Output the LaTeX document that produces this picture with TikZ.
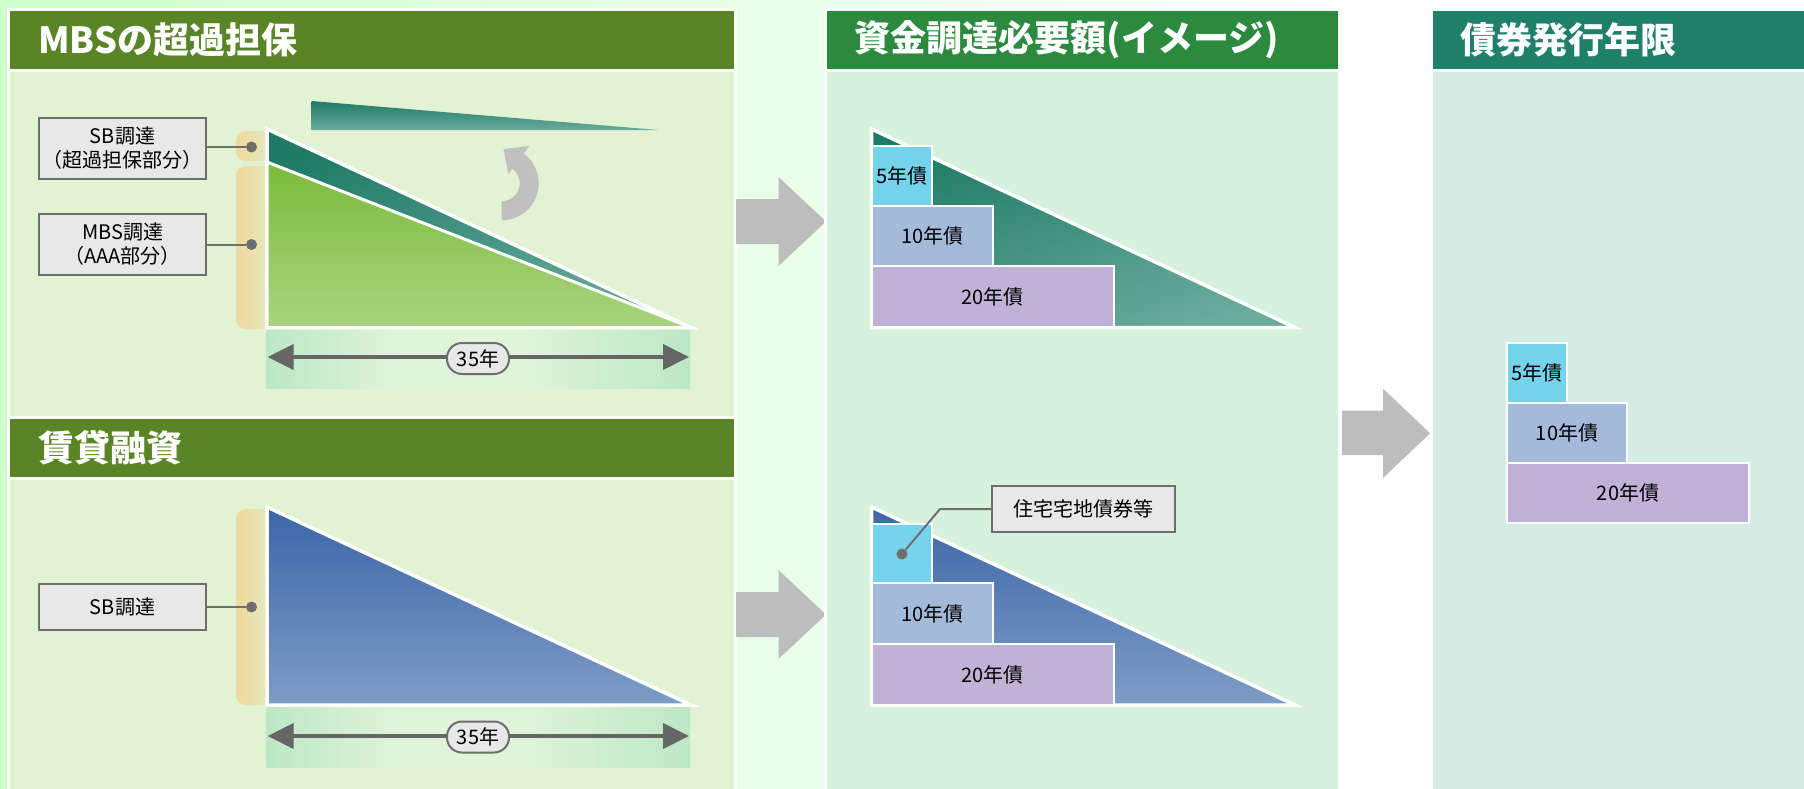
\documentclass[tikz,border=0pt]{standalone}
\usepackage{fontspec}
\setmainfont{Noto Sans CJK JP}
\usetikzlibrary{arrows.meta}
\definecolor{bgL}{HTML}{CCFFCC}
\definecolor{hdrA}{HTML}{5A8526}
\definecolor{hdrB}{HTML}{2B8A3E}
\definecolor{hdrC}{HTML}{1E7F6A}
\definecolor{bodyA}{HTML}{E2F3D4}
\definecolor{bodyB}{HTML}{D6F2DC}
\definecolor{bodyC}{HTML}{D4ECE4}
\definecolor{tealD}{HTML}{1E7B65}
\definecolor{tealL}{HTML}{6AAB9B}
\definecolor{grnD}{HTML}{7CBB3C}
\definecolor{grnL}{HTML}{A8D47E}
\definecolor{bluD}{HTML}{3C66A8}
\definecolor{bluL}{HTML}{7E9CC6}
\definecolor{tanbar}{HTML}{EFD79A}
\definecolor{bandc}{HTML}{BCE8C6}
\definecolor{bandl}{HTML}{E0F4DA}
\definecolor{lblfill}{HTML}{E8E8E8}
\definecolor{lblline}{HTML}{6E6E6E}
\definecolor{spangray}{HTML}{666666}
\definecolor{arrowgray}{HTML}{BDBDBD}
\definecolor{curvegray}{HTML}{C0C0C0}
\definecolor{b5}{HTML}{76D3EC}
\definecolor{b10}{HTML}{A3BADB}
\definecolor{b20}{HTML}{BFB2D6}
\begin{document}
\begin{tikzpicture}[x=1pt,y=-1pt,
  hdr/.style={font=\fontsize{36}{40}\selectfont\bfseries, text=white, anchor=west, inner sep=0pt},
  lbl/.style={draw=lblline, fill=lblfill, line width=2pt, font=\fontsize{20}{24}\selectfont, align=center, minimum width=167pt, inner sep=0pt},
  bond/.style={draw=white, line width=2pt, inner sep=0pt, font=\fontsize{20}{23}\selectfont},
  dotc/.style={circle, fill=lblline, inner sep=0pt, minimum size=11pt},
  conn/.style={draw=lblline, line width=2pt},
  tri/.style={draw=white, line width=3.5pt},
  blockarrow/.style={fill=arrowgray},
  pill/.style={draw=lblline, fill=lblfill, line width=2pt, rounded corners=15pt, minimum width=62pt, minimum height=31pt, inner sep=0pt, font=\fontsize{20}{23}\selectfont},
  spanline/.style={draw=spangray, line width=4pt, {Triangle[length=26pt,width=25pt]}-{Triangle[length=26pt,width=25pt]}},
  panel/.style={draw=white, line width=3pt}
]
\useasboundingbox (0,0) rectangle (1804,788);
% background
\shade[left color=bgL, right color=white] (0,0) rectangle (1340,788);
\fill[white] (1340,0) rectangle (1804,788);

% ---------- left panel ----------
\path[panel, fill=hdrA] (8.5,9.5) rectangle (735.5,70.5);
\path[panel, fill=bodyA] (8.5,70.5) rectangle (735.5,417);
\path[panel, fill=hdrA] (8.5,417) rectangle (735.5,478.5);
\path[panel, fill=bodyA] (8.5,478.5) rectangle (735.5,800);
\node[hdr] (t1) at (38,40) {MBSの超過担保};
\node[hdr] (t2) at (38,448) {賃貸融資};

% tan bars
\shade[left color=tanbar, right color=tanbar!25!bodyA, rounded corners=10pt] (236,131) rectangle (272,161);
\shade[left color=tanbar, right color=tanbar!25!bodyA, rounded corners=10pt] (236,166) rectangle (272,329);
\shade[left color=tanbar, right color=tanbar!25!bodyA, rounded corners=10pt] (236,509) rectangle (272,705);

% bands
\shade[left color=bandc, right color=bandl] (266.6,329) rectangle (400,388);
\fill[bandl] (399.5,329) rectangle (520.5,388);
\shade[left color=bandl, right color=bandc] (520,329) rectangle (690,388);
\shade[left color=bandc, right color=bandl] (266.6,706) rectangle (400,767);
\fill[bandl] (399.5,706) rectangle (520.5,767);
\shade[left color=bandl, right color=bandc] (520,706) rectangle (690,767);

% MBS triangles
\path[tri, top color=tealD, bottom color=tealL, shading angle=20] (267,129) -- (267,327.5) -- (691,327.5) -- cycle;
\path[tri, line width=3pt, top color=grnD, bottom color=grnL] (267,162) -- (267,327.5) -- (691,327.5) -- cycle;
% floating wedge
\path[top color=tealD, bottom color=tealL] (311.5,101) -- (658,130) -- (311.5,130) -- cycle;
% curved arrow
\begin{scope}[shift={(501.7,183.3)}, y=1pt]
\fill[curvegray] (-90:37) arc[start angle=-90, end angle=53.5, radius=37]
  -- (53.5:46.4) -- (87:34.3) -- (53.5:11.2) -- (53.5:18)
  arc[start angle=53.5, end angle=-90, radius=18] -- cycle;
\end{scope}

% labels top-left
\node[lbl, minimum height=61pt] (sb1) at (122.5,148.5) {SB調達\\（超過担保部分）};
\node[lbl, minimum height=61pt] (mbs1) at (122.5,244.5) {MBS調達\\（AAA部分）};
\node[dotc] (d1) at (251.5,147) {};
\node[dotc] (d2) at (251.5,244.5) {};
\draw[conn] (sb1.east |- d1) -- (d1);
\draw[conn] (mbs1) -- (d2);

% span 1
\coordinate (s1l) at (267.6,357);
\coordinate (s1r) at (689,357);
\draw[spanline] (s1l) -- (s1r);
\node[pill] (p1) at (478,358.5) {35年};

% 賃貸融資 triangle
\path[tri, top color=bluD, bottom color=bluL] (267,507) -- (267,705) -- (691,705) -- cycle;
\node[lbl, minimum height=46pt] (sb2) at (122.5,607) {SB調達};
\node[dotc] (d3) at (251.5,607) {};
\draw[conn] (sb2) -- (d3);
\coordinate (s2l) at (267.6,736);
\coordinate (s2r) at (689,736);
\draw[spanline] (s2l) -- (s2r);
\node[pill] (p2) at (478,737) {35年};

% ---------- block arrows ----------
\fill[blockarrow] (736,199) -- (778.5,199) -- (778.5,177) -- (826,221.5) -- (778.5,266) -- (778.5,244) -- (736,244) -- cycle;
\fill[blockarrow] (736,592) -- (778.5,592) -- (778.5,570) -- (826,614.5) -- (778.5,659) -- (778.5,637) -- (736,637) -- cycle;
\fill[blockarrow] (1342,410.7) -- (1383,410.7) -- (1383,388.6) -- (1430,433.3) -- (1383,478) -- (1383,455) -- (1342,455) -- cycle;

% ---------- middle panel ----------
\path[panel, fill=hdrB] (825.5,9.5) rectangle (1339.5,70.5);
\path[panel, fill=bodyB] (825.5,70.5) rectangle (1339.5,800);
\node[hdr] (t3) at (854.5,40) {資金調達必要額(イメージ)};

\path[tri, top color=tealD, bottom color=tealL, shading angle=20] (871.5,129) -- (871.5,327.5) -- (1295,327.5) -- cycle;
\node[bond, fill=b5, minimum width=60.5pt, minimum height=60pt] (m5) at (901.75,176) {5年債};
\node[bond, fill=b10, minimum width=121.5pt, minimum height=60pt] (m10) at (932.25,236) {10年債};
\node[bond, fill=b20, minimum width=242.5pt, minimum height=61pt] (m20) at (992.75,296.5) {20年債};

\path[tri, top color=bluD, bottom color=bluL] (871.5,507) -- (871.5,705) -- (1295,705) -- cycle;
\node[bond, fill=b5, minimum width=60.5pt, minimum height=59pt] (n5) at (901.75,553.5) {};
\node[bond, fill=b10, minimum width=121.5pt, minimum height=61pt] (n10) at (932.25,613.5) {10年債};
\node[bond, fill=b20, minimum width=242.5pt, minimum height=61pt] (n20) at (992.75,674.5) {20年債};
\node[lbl, minimum width=183pt, minimum height=46pt] (call) at (1083.5,509) {住宅宅地債券等};
\node[dotc] (d4) at (902,554) {};
\coordinate (cb) at (940,509);
\draw[conn] (call.west) -- (cb) -- (d4);

% ---------- right panel ----------
\path[panel, fill=hdrC] (1431.5,9.5) rectangle (1810,70.5);
\path[panel, fill=bodyC] (1431.5,70.5) rectangle (1810,800);
\node[hdr] (t4) at (1460,40) {債券発行年限};
\node[bond, fill=b5, minimum width=60pt, minimum height=59.5pt] (r5) at (1536.85,372.75) {5年債};
\node[bond, fill=b10, minimum width=120pt, minimum height=60.5pt] (r10) at (1567,432.75) {10年債};
\node[bond, fill=b20, minimum width=242pt, minimum height=60pt] (r20) at (1628,493) {20年債};
\end{tikzpicture}
\end{document}
